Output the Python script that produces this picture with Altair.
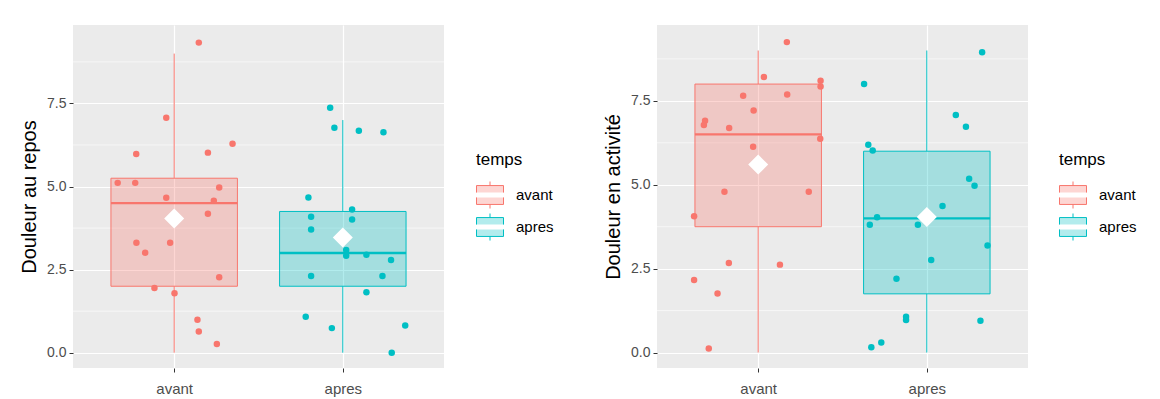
import altair as alt
import pandas as pd

categories = ["avant", "apres"]
colors = ["#F8766D", "#00BFC4"]
fills = ["rgba(248,118,109,0.3)", "rgba(0,191,196,0.3)"]

major_ticks = [0, 2.5, 5, 7.5]
minor_ticks = [1.25, 3.75, 6.25, 8.75]

# ---- Douleur au repos ----
repos_avant_y = [9.33, 7.07, 5.98, 6.29, 6.02, 5.11, 5.11, 4.97, 4.66, 4.57,
                 4.18, 3.31, 3.31, 3.01, 2.27, 1.95, 1.79, 0.99, 0.64, 0.26]
repos_avant_jit = [0.146, -0.047, -0.225, 0.346, 0.20, -0.335, -0.231, 0.267, -0.047, 0.235,
                   0.20, -0.224, -0.024, -0.172, 0.267, -0.117, 0.002, 0.138, 0.146, 0.253]
repos_apres_y = [7.37, 6.77, 6.68, 6.63, 4.67, 4.31, 4.09, 4.01, 3.71, 3.09,
                 2.92, 2.95, 2.79, 2.31, 2.31, 1.82, 1.08, 0.74, 0.82, 0.0]
repos_apres_jit = [-0.075, -0.05, 0.095, 0.241, -0.204, 0.055, -0.188, 0.055, -0.188, 0.02,
                   0.02, 0.14, 0.286, -0.188, 0.235, 0.14, -0.22, -0.065, 0.37, 0.29]
repos_q1 = [2.0, 2.0]
repos_med = [4.5, 3.0]
repos_q3 = [5.25, 4.25]
repos_lo = [0.0, 0.0]
repos_hi = [9.0, 7.0]
repos_mean = [4.04, 3.47]

# ---- Douleur en activité ----
activ_avant_y = [9.25, 8.21, 8.10, 7.93, 7.69, 7.65, 7.21, 6.91, 6.78, 6.69,
                 6.37, 6.13, 4.79, 4.79, 4.06, 2.67, 2.62, 2.16, 1.76, 0.12]
activ_avant_jit = [0.17, 0.034, 0.37, 0.37, 0.172, -0.089, -0.027, -0.315, -0.322, -0.172,
                   0.368, -0.03, -0.2, 0.3, -0.38, -0.174, 0.129, -0.38, -0.241, -0.293]
activ_apres_y = [8.0, 6.19, 6.02, 4.03, 3.81, 0.16, 0.30, 8.95, 7.08, 6.73,
                 5.18, 4.97, 4.37, 3.81, 3.19, 2.76, 2.20, 1.07, 0.97, 0.95]
activ_apres_jit = [-0.372, -0.347, -0.321, -0.295, -0.338, -0.329, -0.27, 0.328, 0.172, 0.232,
                   0.251, 0.283, 0.093, -0.053, 0.36, 0.026, -0.18, -0.123, -0.123, 0.318]
activ_q1 = [3.75, 1.75]
activ_med = [6.5, 4.0]
activ_q3 = [8.0, 6.0]
activ_lo = [0.0, 0.0]
activ_hi = [9.0, 9.0]
activ_mean = [5.6, 4.04]

FONT = "Liberation Sans"
BOX_HALF = 0.375
KEY_PATH = "M-1,-0.18V-0.7H1V-0.18M-1,0.18V0.7H1V0.18M0,-1V-0.7M0,0.7V1"


def panel(title, av_y, av_j, ap_y, ap_j, q1, med, q3, lo, hi, mean, ydom, legend_x, legend_y):
    pts = pd.DataFrame({
        "temps": [categories[0]] * len(av_y) + [categories[1]] * len(ap_y),
        "idx": [1] * len(av_y) + [2] * len(ap_y),
        "y": av_y + ap_y,
        "jit": av_j + ap_j,
    })
    stats = pd.DataFrame({
        "temps": categories, "idx": [1, 2],
        "q1": q1, "med": med, "q3": q3, "lo": lo, "hi": hi, "mean": mean,
    })
    grid = pd.DataFrame({"v": minor_ticks})

    xs = alt.Scale(domain=[0.4, 2.6], nice=False, zero=False)
    ys = alt.Scale(domain=ydom, nice=False, zero=False)
    label_expr = "datum.value == 1 ? '%s' : '%s'" % (categories[0], categories[1])
    xaxis = alt.Axis(values=[1, 2], labelExpr=label_expr, title=None, grid=True,
                     gridColor="white", gridWidth=1.2, domain=False, tickColor="#333333",
                     tickSize=4, tickWidth=1, labelFontSize=15, labelColor="#4D4D4D",
                     labelFont=FONT, labelPadding=9)
    yaxis = alt.Axis(values=major_ticks, format=".1f", title=title, grid=True,
                     gridColor="white", gridWidth=1.2, domain=False, tickColor="#333333",
                     tickSize=4, tickWidth=1, labelFontSize=14, labelColor="#4D4D4D",
                     labelFont=FONT, labelPadding=3, titleFont=FONT, titleFontSize=20,
                     titleFontWeight="normal", titleColor="black", titlePadding=7)
    fill_sc = alt.Scale(domain=categories, range=fills)
    stroke_sc = alt.Scale(domain=categories, range=colors)
    legend = alt.Legend(title="temps", orient="none", legendX=legend_x, legendY=legend_y,
                        symbolType=KEY_PATH, symbolSize=729, symbolStrokeWidth=1,
                        titleFont=FONT, titleFontSize=17, titleFontWeight="normal",
                        titleColor="black", labelFont=FONT, labelFontSize=15,
                        labelColor="black", labelOffset=12, rowPadding=0, titlePadding=12)
    stroke_enc = alt.Stroke("temps:N", scale=stroke_sc, legend=legend, sort=categories)
    fill_enc = alt.Fill("temps:N", scale=fill_sc, legend=legend, sort=categories)

    minor = alt.Chart(grid).mark_rule(color="white", strokeWidth=0.6).encode(
        y=alt.Y("v:Q", scale=ys, axis=yaxis))

    base = alt.Chart(stats).transform_calculate(
        xl="datum.idx - %f" % BOX_HALF, xr="datum.idx + %f" % BOX_HALF)

    whisk_hi = base.mark_rule(strokeWidth=1).encode(
        x=alt.X("idx:Q", scale=xs, axis=xaxis), y=alt.Y("q3:Q", scale=ys), y2="hi:Q",
        stroke=stroke_enc)
    whisk_lo = base.mark_rule(strokeWidth=1).encode(
        x=alt.X("idx:Q", scale=xs), y=alt.Y("lo:Q", scale=ys), y2="q1:Q",
        stroke=stroke_enc)
    box = base.mark_rect(strokeWidth=1).encode(
        x=alt.X("xl:Q", scale=xs), x2="xr:Q", y=alt.Y("q1:Q", scale=ys), y2="q3:Q",
        fill=fill_enc, stroke=stroke_enc)
    median = base.mark_rule(strokeWidth=2.3).encode(
        x=alt.X("xl:Q", scale=xs), x2="xr:Q", y=alt.Y("med:Q", scale=ys),
        stroke=stroke_enc)
    points = alt.Chart(pts).transform_calculate(px="datum.idx + datum.jit").mark_circle(
        size=42, opacity=1).encode(
        x=alt.X("px:Q", scale=xs), y=alt.Y("y:Q", scale=ys),
        color=alt.Color("temps:N", scale=alt.Scale(domain=categories, range=colors), legend=None))
    meanpt = base.mark_point(shape="diamond", filled=True, color="white", opacity=1,
                             size=400).encode(
        x=alt.X("idx:Q", scale=xs), y=alt.Y("mean:Q", scale=ys))

    return alt.layer(minor, whisk_hi, whisk_lo, box, median, points, meanpt).properties(
        width=371, height=343)


left = panel("Douleur au repos", repos_avant_y, repos_avant_jit, repos_apres_y, repos_apres_jit,
             repos_q1, repos_med, repos_q3, repos_lo, repos_hi, repos_mean,
             [-0.46, 9.86], 403, 127)
right = panel("Douleur en activité", activ_avant_y, activ_avant_jit, activ_apres_y, activ_apres_jit,
              activ_q1, activ_med, activ_q3, activ_lo, activ_hi, activ_mean,
              [-0.46, 9.76], 402, 127)

chart = alt.hconcat(left, right, spacing=49).resolve_scale(
    fill="independent", stroke="independent", color="independent", y="independent", x="independent"
).resolve_legend(fill="independent", stroke="independent").configure_view(
    fill="#EBEBEB", stroke=None
).properties(padding={"left": 19, "top": 25, "right": 5, "bottom": 5}, background="white")

chart.save("out.html", embed_options={"renderer": "svg", "actions": False})
